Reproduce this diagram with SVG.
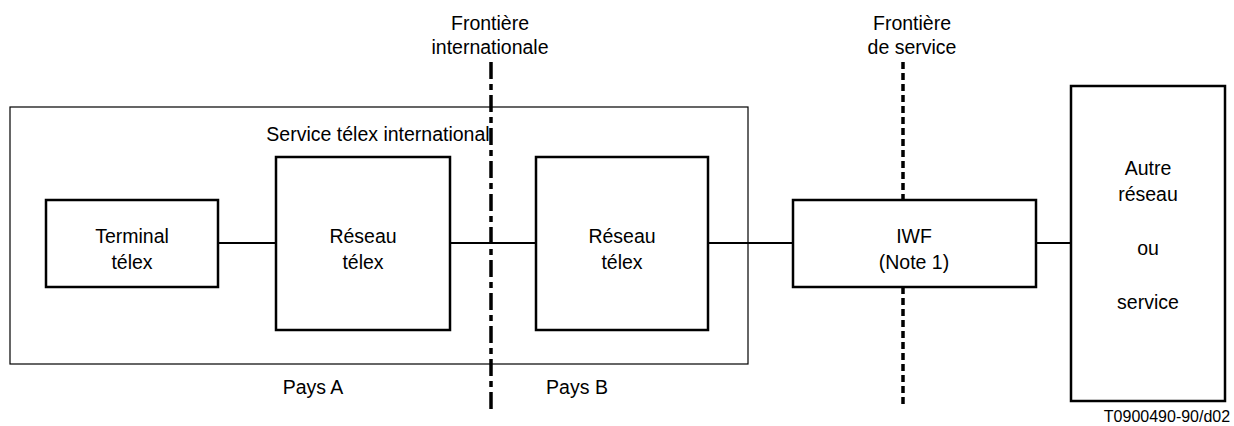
<svg xmlns="http://www.w3.org/2000/svg" width="1234" height="426" viewBox="0 0 1234 426">
  <style>
    .box { fill: none; stroke: #000; stroke-width: 2.5; }
    .frame { fill: none; stroke: #000; stroke-width: 1.2; }
    .link { stroke: #000; stroke-width: 2; fill: none; }
    .intl { stroke: #000; stroke-width: 3.5; stroke-dasharray: 17 5 6 5; fill: none; }
    .svc { stroke: #000; stroke-width: 3.5; stroke-dasharray: 7 4; fill: none; }
    text { font-family: "Liberation Sans", Arial, sans-serif; font-size: 19.5px; fill: #000; text-anchor: middle; }
    .ref { font-size: 16px; }
  </style>
  <rect width="1234" height="426" fill="#fff"/>

  <!-- Service domain frame -->
  <g id="service-frame">
    <rect class="frame" x="10" y="107" width="738" height="257"/>
    <text x="378" y="141">Service télex international</text>
  </g>

  <!-- Boundaries -->
  <g id="boundaries">
    <line class="intl" x1="491" y1="62" x2="491" y2="410"/>
    <line class="svc" x1="903" y1="62" x2="903" y2="200"/>
    <line class="svc" x1="903" y1="287" x2="903" y2="404"/>
    <text x="490" y="30">Frontière</text>
    <text x="490" y="54">internationale</text>
    <text x="912" y="30">Frontière</text>
    <text x="912" y="54">de service</text>
  </g>

  <!-- Connectors -->
  <g id="connectors">
    <line class="link" x1="218" y1="243" x2="276" y2="243"/>
    <line class="link" x1="450" y1="243" x2="536" y2="243"/>
    <line class="link" x1="708" y1="243" x2="793" y2="243"/>
    <line class="link" x1="1036" y1="243" x2="1071" y2="243"/>
  </g>

  <g id="terminal">
    <rect class="box" x="46" y="200" width="172" height="87"/>
    <text x="132" y="243">Terminal</text>
    <text x="132" y="269">télex</text>
  </g>

  <g id="reseau-a">
    <rect class="box" x="276" y="157" width="174" height="173"/>
    <text x="363" y="243">Réseau</text>
    <text x="363" y="269">télex</text>
  </g>

  <g id="reseau-b">
    <rect class="box" x="536" y="157" width="172" height="173"/>
    <text x="622" y="243">Réseau</text>
    <text x="622" y="269">télex</text>
  </g>

  <g id="iwf">
    <rect class="box" x="793" y="200" width="243" height="87"/>
    <text x="914" y="243">IWF</text>
    <text x="914" y="269">(Note 1)</text>
  </g>

  <g id="autre">
    <rect class="box" x="1071" y="86" width="154" height="315"/>
    <text x="1148" y="175">Autre</text>
    <text x="1148" y="201">réseau</text>
    <text x="1148" y="255">ou</text>
    <text x="1148" y="309">service</text>
  </g>

  <g id="labels">
    <text x="313" y="394">Pays A</text>
    <text x="577" y="394">Pays B</text>
    <text x="1167" y="422" class="ref">T0900490-90/d02</text>
  </g>
</svg>
